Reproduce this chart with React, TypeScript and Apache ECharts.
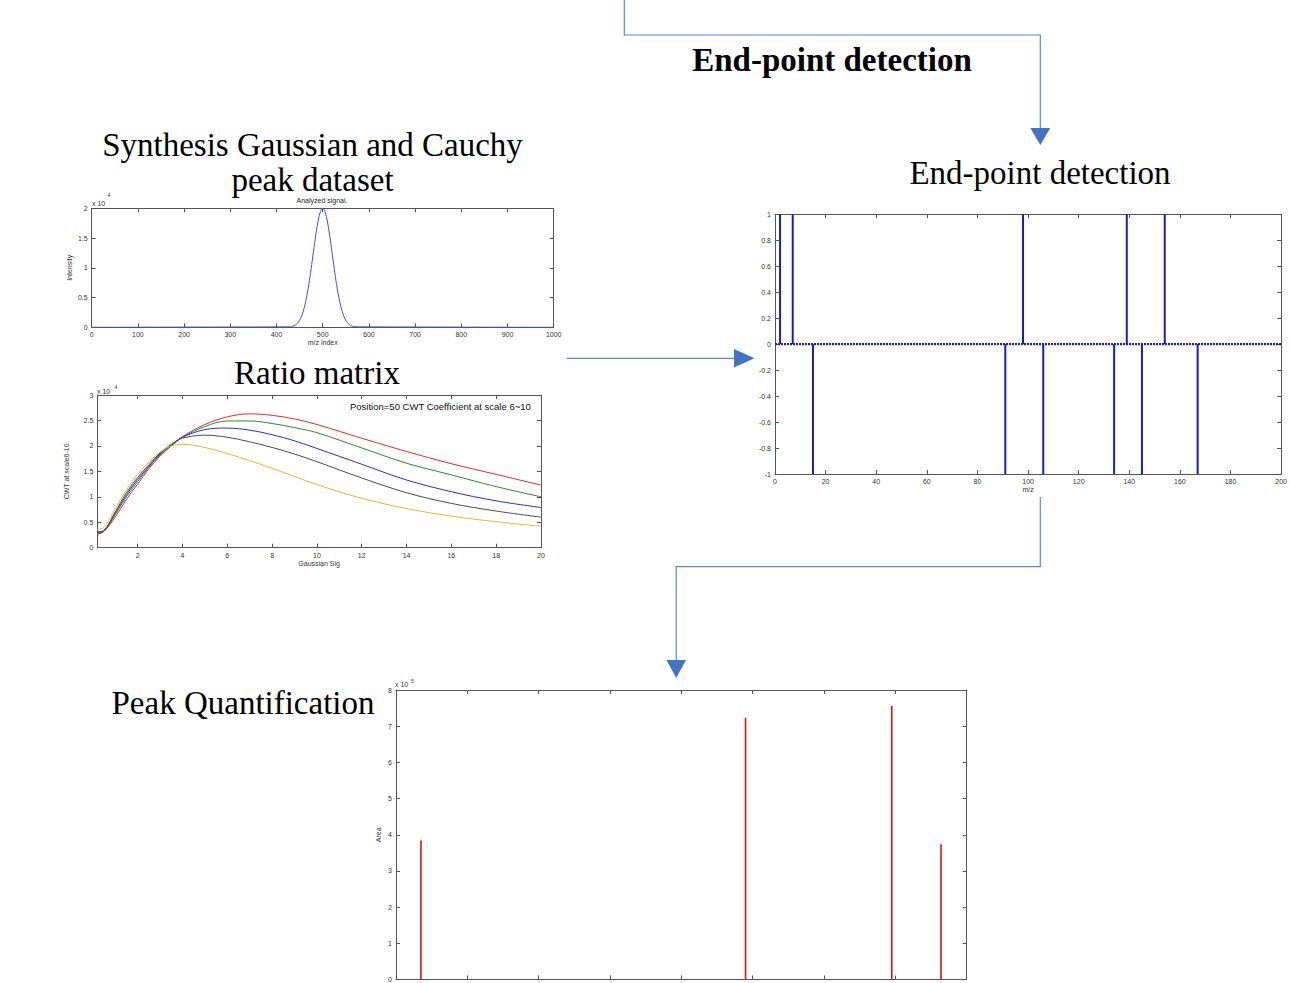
import React, { useEffect, useRef } from "react";
import * as echarts from "echarts";

// Panel 1: analyzed signal (Intensity, x 10^4)
const signalX = [0, 430, 435, 440, 445, 450, 455, 460, 465, 470, 475, 480, 485, 490, 495, 500, 505, 510, 515, 520, 525, 530, 535, 540, 545, 550, 555, 560, 565, 570, 1000];
const signalY = [0, 0.008, 0.017, 0.034, 0.065, 0.118, 0.2, 0.326, 0.5, 0.72, 0.985, 1.27, 1.55, 1.786, 1.944, 2.0, 1.944, 1.786, 1.55, 1.27, 0.985, 0.72, 0.5, 0.326, 0.2, 0.118, 0.065, 0.034, 0.017, 0.008, 0];

// Panel 2: CWT coefficient at scale 6~10 vs Gaussian sigma (x 10^4)
const sigmaX = [0.2, 0.5, 1, 1.5, 2, 2.5, 3, 3.5, 4, 5, 6, 7, 8, 9, 10, 12, 14, 16, 18, 20];
const cwtRed = [0.26, 0.32, 0.6, 0.95, 1.25, 1.55, 1.8, 2.0, 2.18, 2.42, 2.57, 2.63, 2.6, 2.53, 2.42, 2.15, 1.89, 1.65, 1.44, 1.23];
const cwtGreen = [0.28, 0.33, 0.65, 1.0, 1.3, 1.58, 1.82, 2.0, 2.17, 2.38, 2.49, 2.49, 2.44, 2.36, 2.26, 1.96, 1.66, 1.43, 1.2, 1.0];
const cwtBlue = [0.3, 0.33, 0.68, 1.04, 1.34, 1.6, 1.84, 2.02, 2.17, 2.32, 2.35, 2.31, 2.22, 2.1, 1.95, 1.64, 1.33, 1.1, 0.92, 0.79];
const cwtBlack = [0.31, 0.34, 0.7, 1.08, 1.38, 1.63, 1.86, 2.03, 2.15, 2.21, 2.17, 2.08, 1.97, 1.84, 1.69, 1.37, 1.08, 0.87, 0.72, 0.6];
const cwtYellow = [0.36, 0.4, 0.76, 1.14, 1.44, 1.68, 1.88, 2.0, 2.03, 1.97, 1.85, 1.71, 1.56, 1.4, 1.24, 0.97, 0.77, 0.62, 0.51, 0.42];
const sigmaTicks = [2, 4, 6, 8, 10, 12, 14, 16, 18, 20];

// Panel 3: end-point detection stems
const endPointX = [2, 7, 15, 91, 98, 106, 134, 139, 145, 154, 167];
const endPointY = [1, 1, -1, -1, 1, -1, -1, 1, -1, 1, -1];
const baselineX = [0, 200];

// Panel 4: peak quantification (Area, x 10^5)
const areaX = [0.35, 4.9, 6.95, 7.64];
const areaY = [3.84, 7.23, 7.56, 3.74];

const AX = "#555";
const LBL = "#333";
const SANS = "'Liberation Sans', Arial, sans-serif";
const SERIF = "'Liberation Serif', 'Times New Roman', serif";
const FLOW = "#5b87cf";
const ARROW = "#4472c4";

type AxCfg = {
  min: number;
  max: number;
  interval?: number;
  custom?: number[];
  name?: string;
  nameGap?: number;
  showLabels?: boolean;
  fmt?: (v: number) => string;
};

function mkX(grid: number, c: AxCfg) {
  const base = (pos: "bottom" | "top", labels: boolean) => ({
    gridIndex: grid,
    type: "value",
    position: pos,
    min: c.min,
    max: c.max,
    interval: c.interval,
    axisLine: { show: true, onZero: false, lineStyle: { color: AX, width: 1 } },
    axisTick: {
      show: true,
      inside: true,
      length: 4,
      lineStyle: { color: AX },
      ...(c.custom ? { customValues: c.custom } : {}),
    },
    axisLabel: {
      show: labels,
      fontSize: 7,
      color: LBL,
      fontFamily: SANS,
      margin: 4,
      hideOverlap: false,
      showMinLabel: true,
      showMaxLabel: true,
      formatter: c.fmt ?? ((v: number) => String(v)),
      ...(c.custom ? { customValues: c.custom } : {}),
    },
    splitLine: { show: false },
    name: pos === "bottom" ? c.name : undefined,
    nameLocation: "middle",
    nameGap: c.nameGap ?? 14,
    nameTextStyle: { fontSize: 7, color: LBL, fontFamily: SANS },
  });
  return [base("bottom", c.showLabels !== false), base("top", false)];
}

function mkY(grid: number, c: AxCfg) {
  const base = (pos: "left" | "right", labels: boolean) => ({
    gridIndex: grid,
    type: "value",
    position: pos,
    min: c.min,
    max: c.max,
    interval: c.interval,
    axisLine: { show: true, onZero: false, lineStyle: { color: AX, width: 1 } },
    axisTick: { show: true, inside: true, length: 4, lineStyle: { color: AX } },
    axisLabel: {
      show: labels,
      fontSize: 7,
      color: LBL,
      fontFamily: SANS,
      margin: 4,
      showMinLabel: true,
      showMaxLabel: true,
      formatter: c.fmt ?? ((v: number) => String(v)),
    },
    splitLine: { show: false },
    name: pos === "left" ? c.name : undefined,
    nameLocation: "middle",
    nameGap: c.nameGap ?? 16,
    nameRotate: 90,
    nameTextStyle: { fontSize: 7, color: LBL, fontFamily: SANS },
  });
  return [base("left", true), base("right", false)];
}

const pair = (xs: number[], ys: number[]) => xs.map((x, i) => [x, ys[i]]);
const round1 = (v: number) => String(Math.round(v * 10) / 10);

function text(x: number, y: number, t: string, size: number, opts: any = {}) {
  return {
    type: "text",
    x,
    y,
    silent: true,
    style: {
      text: t,
      fontSize: size,
      fontFamily: opts.family ?? SERIF,
      fontWeight: opts.weight ?? "normal",
      fill: opts.fill ?? "#000",
      textAlign: opts.align ?? "center",
      textVerticalAlign: "middle",
    },
  };
}

export default function App() {
  const ref = useRef<HTMLDivElement>(null);

  useEffect(() => {
    if (!ref.current) return;
    const chart = echarts.init(ref.current, undefined, { renderer: "svg" });

    const grids = [
      { left: 91.7, top: 208.3, width: 462, height: 119 },
      { left: 97.3, top: 395, width: 443.7, height: 152.7 },
      { left: 775, top: 214.3, width: 508.3, height: 259.7 },
      { left: 396, top: 690, width: 570.7, height: 290 },
    ];

    const xAxis = [
      ...mkX(0, { min: 0, max: 1000, interval: 100, name: "m/z index", nameGap: 12 }),
      ...mkX(1, { min: 0.2, max: 20, custom: sigmaTicks, name: "Gaussian Sig", nameGap: 11 }),
      ...mkX(2, { min: 0, max: 200, interval: 20, name: "m/z", nameGap: 12 }),
      ...mkX(3, { min: 0, max: 8, interval: 1, showLabels: false }),
    ];
    const yAxis = [
      ...mkY(0, { min: 0, max: 2, interval: 0.5, name: "Intensity", nameGap: 19 }),
      ...mkY(1, { min: 0, max: 3, interval: 0.5, name: "CWT at scale6-10", nameGap: 27 }),
      ...mkY(2, { min: -1, max: 1, interval: 0.2, fmt: round1 }),
      ...mkY(3, { min: 0, max: 8, interval: 1, name: "Area", nameGap: 14 }),
    ];

    const lineS = (xi: number, yi: number, data: any[], color: string, width = 1, smooth: any = false) => ({
      type: "line",
      xAxisIndex: xi,
      yAxisIndex: yi,
      data,
      showSymbol: false,
      symbol: "none",
      smooth,
      lineStyle: { color, width },
      z: 3,
    });

    const series: any[] = [
      lineS(0, 0, pair(signalX, signalY), "#4848ee", 1, 0.3),
      lineS(2, 2, pair(sigmaX, cwtRed), "#e02a2a", 1, 0.35),
      lineS(2, 2, pair(sigmaX, cwtGreen), "#2a8a2a", 1, 0.35),
      lineS(2, 2, pair(sigmaX, cwtBlue), "#2a2ae0", 1, 0.35),
      lineS(2, 2, pair(sigmaX, cwtBlack), "#4a4a4a", 1, 0.35),
      lineS(2, 2, pair(sigmaX, cwtYellow), "#c9c62a", 1, 0.35),
      {
        type: "line",
        xAxisIndex: 4,
        yAxisIndex: 4,
        data: baselineX.map((x) => [x, 0]),
        showSymbol: false,
        symbol: "none",
        lineStyle: { color: "#1a1ac8", width: 2.2, type: [2, 1] },
        z: 2,
      },
      {
        type: "bar",
        xAxisIndex: 4,
        yAxisIndex: 4,
        data: pair(endPointX, endPointY),
        barWidth: 2,
        itemStyle: { color: "#1a1ac8" },
        z: 3,
      },
      {
        type: "bar",
        xAxisIndex: 6,
        yAxisIndex: 6,
        data: pair(areaX, areaY),
        barWidth: 1.6,
        itemStyle: { color: "#e01010" },
        z: 3,
      },
    ];

    const graphic: any[] = [
      // flow connectors
      { type: "polyline", silent: true, shape: { points: [[624.3, 0], [624.3, 35], [1040.3, 35], [1040.3, 129]] }, style: { stroke: FLOW, lineWidth: 1.2, fill: null } },
      { type: "polygon", silent: true, shape: { points: [[1030.3, 128], [1050.3, 128], [1040.3, 145]] }, style: { fill: ARROW } },
      { type: "line", silent: true, shape: { x1: 567, y1: 358.3, x2: 736, y2: 358.3 }, style: { stroke: FLOW, lineWidth: 1.2 } },
      { type: "polygon", silent: true, shape: { points: [[734, 349], [754.5, 358.3], [734, 367.5]] }, style: { fill: ARROW } },
      { type: "polyline", silent: true, shape: { points: [[1040.3, 497], [1040.3, 566.7], [676.2, 566.7], [676.2, 661]] }, style: { stroke: FLOW, lineWidth: 1.2, fill: null } },
      { type: "polygon", silent: true, shape: { points: [[666.5, 660], [686, 660], [676.2, 678]] }, style: { fill: ARROW } },
      // big captions
      text(832, 60, "End-point detection", 33, { weight: "bold" }),
      text(312.5, 145, "Synthesis Gaussian and Cauchy", 33),
      text(312.5, 180, "peak dataset", 33),
      text(317, 373, "Ratio matrix", 33),
      text(1040, 173, "End-point detection", 33),
      text(243, 703, "Peak Quantification", 33),
      // small plot annotations
      text(322, 200.5, "Analyzed signal.", 7, { family: SANS, fill: "#222" }),
      text(92, 203, "x 10", 7, { family: SANS, fill: LBL, align: "left" }),
      text(107.5, 195, "4", 5, { family: SANS, fill: LBL, align: "left" }),
      text(97, 391, "x 10", 7, { family: SANS, fill: LBL, align: "left" }),
      text(114.5, 387, "4", 5, { family: SANS, fill: LBL, align: "left" }),
      text(395, 684.5, "x 10", 7, { family: SANS, fill: LBL, align: "left" }),
      text(411, 681, "5", 5, { family: SANS, fill: LBL, align: "left" }),
      text(350, 406.5, "Position=50 CWT Coefficient at scale 6~10", 9.5, { family: SANS, fill: "#111", align: "left" }),
    ];

    chart.setOption({
      animation: false,
      backgroundColor: "#ffffff",
      grid: grids.map((g) => ({ ...g, containLabel: false, show: false })),
      xAxis,
      yAxis,
      series,
      graphic,
    });

    return () => chart.dispose();
  }, []);

  return (
    <div
      ref={ref}
      style={{ position: "absolute", left: 0, top: 0, width: 1290, height: 983, background: "#fff" }}
    />
  );
}
